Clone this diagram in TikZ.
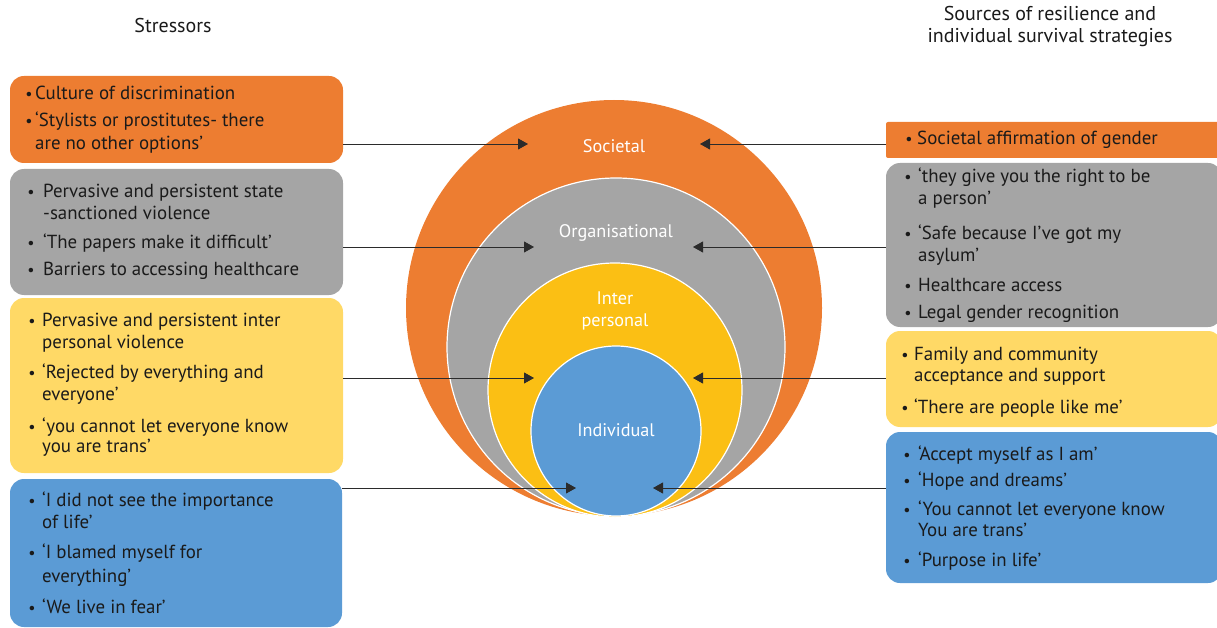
\documentclass[tikz,border=0pt]{standalone}
\usepackage{fontspec}
\setmainfont{PT Sans}
\usetikzlibrary{arrows.meta}
\definecolor{corange}{HTML}{ED7D31}
\definecolor{cgray}{HTML}{A5A5A5}
\definecolor{cyelbox}{HTML}{FFD966}
\definecolor{cyelcirc}{HTML}{FBBF14}
\definecolor{cblue}{HTML}{5B9BD5}
\definecolor{ctext}{HTML}{1A1A1A}
\definecolor{carrow}{HTML}{2B2B2B}
\newcommand\txtline[4]{\node[txt] (#1) at (#2,#3) {#4};}
\newcommand\bulletat[3]{\node[bul] (#1) at (#2,#3) {•};}
\tikzset{
  boxnode/.style={rectangle, rounded corners=14pt, inner sep=0pt, draw=none},
  txt/.style={anchor=base west, inner sep=0pt, font=\fontsize{18.9}{22}\selectfont, text=ctext},
  bul/.style={anchor=base, inner sep=0pt, font=\fontsize{16}{20}\selectfont, text=ctext},
  head/.style={anchor=base, inner sep=0pt, font=\fontsize{20}{24}\selectfont, text=ctext},
  ring/.style={circle, inner sep=0pt, draw=white, line width=1.2pt},
  ringlab/.style={anchor=base, inner sep=0pt, font=\fontsize{18.2}{22}\selectfont, text=white},
  arr/.style={draw=carrow, line width=0.9pt, -{Triangle[length=10pt,width=11pt]}}
}
\begin{document}
\begin{tikzpicture}[x=1pt,y=-1pt]
\useasboundingbox (0,0) rectangle (1217,628);
\clip (0,0) rectangle (1217,628);

% headings
\node[head] (hL) at (173,33) {Stressors};
\node[head] (hR1) at (1050,21) {Sources of resilience and};
\node[head] (hR2) at (1050,43) {individual survival strategies};

% rings
\node[ring, draw=none, fill=corange, minimum size=416pt] (cSoc) at (614,308) {};
\node[ring, fill=cgray, minimum size=338pt] (cOrg) at (616,347) {};
\node[ring, fill=cyelcirc, minimum size=254pt] (cInt) at (615,390) {};
\node[ring, fill=cblue, minimum size=170pt] (cInd) at (616,431) {};
\node[ringlab] (lSoc) at (614,153) {Societal};
\node[ringlab] (lOrg) at (616,237) {Organisational};
\node[ringlab] (lInt1) at (615,304) {Inter};
\node[ringlab] (lInt2) at (615,326) {personal};
\node[ringlab] (lInd) at (616,436) {Individual};

% left boxes
\node[boxnode, fill=corange, minimum width=333pt, minimum height=87pt] (lb1) at (176.5,119.5) {};
\node[boxnode, fill=cgray, minimum width=333pt, minimum height=126pt] (lb2) at (176.5,232) {};
\node[boxnode, fill=cyelbox, minimum width=333pt, minimum height=175pt] (lb3) at (176.5,385.5) {};
\node[boxnode, fill=cblue, minimum width=332pt, minimum height=148pt] (lb4) at (176,553) {};

% right boxes
\node[boxnode, rounded corners=2pt, fill=corange, minimum width=336pt, minimum height=36pt] (rb1) at (1054,140) {};
\node[boxnode, fill=cgray, minimum width=336pt, minimum height=164pt] (rb2) at (1054,245) {};
\node[boxnode, fill=cyelbox, minimum width=336pt, minimum height=96pt] (rb3) at (1054,379) {};
\node[boxnode, fill=cblue, minimum width=336pt, minimum height=151pt] (rb4) at (1054,507.5) {};

% left texts
\bulletat{b11}{29}{100}\txtline{t11}{35}{100}{Culture of discrimination}
\bulletat{b12}{29}{126.7}\txtline{t12}{35}{126.7}{‘Stylists or prostitutes- there}
\txtline{t13}{35}{150}{are no other options’}

\bulletat{b21}{31}{197.7}\txtline{t21}{43}{197.7}{Pervasive and persistent state}
\txtline{t22}{43}{220}{-sanctioned violence}
\bulletat{b23}{31}{248}\txtline{t23}{43}{248}{‘The papers make it difficult’}
\bulletat{b24}{31}{275}\txtline{t24}{43}{275}{Barriers to accessing healthcare}

\bulletat{b31}{32}{326.7}\txtline{t31}{42}{326.7}{Pervasive and persistent inter}
\txtline{t32}{42}{348}{personal violence}
\bulletat{b33}{32}{378}\txtline{t33}{42}{378}{‘Rejected by everything and}
\txtline{t34}{42}{400}{everyone’}
\bulletat{b35}{32}{432}\txtline{t35}{42}{432}{‘you cannot let everyone know}
\txtline{t36}{42}{452}{you are trans’}

\bulletat{b41}{32}{506.7}\txtline{t41}{42}{506.7}{‘I did not see the importance}
\txtline{t42}{42}{528}{of life’}
\bulletat{b43}{32}{558}\txtline{t43}{42}{558}{‘I blamed myself for}
\txtline{t44}{42}{582}{everything’}
\bulletat{b45}{32}{613}\txtline{t45}{42}{613}{‘We live in fear’}

% right texts
\bulletat{r11}{909}{145}\txtline{s11}{917}{145}{Societal affirmation of gender}

\bulletat{r21}{908}{182.7}\txtline{s21}{918}{182.7}{‘they give you the right to be}
\txtline{s22}{918}{205}{a person’}
\bulletat{r23}{908}{240}\txtline{s23}{918}{240}{‘Safe because I’ve got my}
\txtline{s24}{918}{261.7}{asylum’}
\bulletat{r25}{908}{291.7}\txtline{s25}{918}{291.7}{Healthcare access}
\bulletat{r26}{908}{318}\txtline{s26}{918}{318}{Legal gender recognition}

\bulletat{r31}{905}{360}\txtline{s31}{914}{360}{Family and community}
\txtline{s32}{914}{381.7}{acceptance and support}
\bulletat{r33}{905}{413.3}\txtline{s33}{914}{413.3}{‘There are people like me’}

\bulletat{r41}{907}{460}\txtline{s41}{918}{460}{‘Accept myself as I am’}
\bulletat{r42}{907}{486.7}\txtline{s42}{918}{486.7}{‘Hope and dreams’}
\bulletat{r43}{907}{515}\txtline{s43}{918}{515}{‘You cannot let everyone know}
\txtline{s44}{918}{536.7}{You are trans’}
\bulletat{r45}{907}{566.7}\txtline{s45}{918}{566.7}{‘Purpose in life’}

% arrows
\coordinate (tL1) at (528,144);
\coordinate (tL2) at (534,247);
\coordinate (tL3) at (534,378);
\coordinate (tL4) at (576,488);
\coordinate (tR1) at (700,144);
\coordinate (tR2) at (693,247);
\coordinate (tR3) at (693,378);
\coordinate (tR4) at (653,488);
\draw[arr] (lb1.east |- tL1) -- (tL1);
\draw[arr] (lb2.east |- tL2) -- (tL2);
\draw[arr] (lb3.east |- tL3) -- (tL3);
\draw[arr] (lb4.east |- tL4) -- (tL4);
\draw[arr] (rb1.west |- tR1) -- (tR1);
\draw[arr] (rb2.west |- tR2) -- (tR2);
\draw[arr] (rb3.west |- tR3) -- (tR3);
\draw[arr] (rb4.west |- tR4) -- (tR4);
\end{tikzpicture}
\end{document}
